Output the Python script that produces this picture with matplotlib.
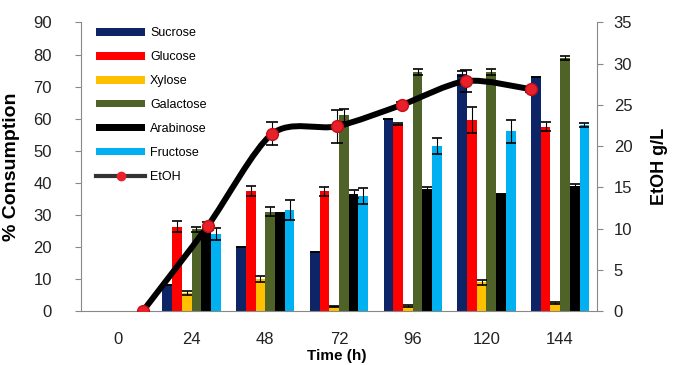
import numpy as np
import matplotlib
matplotlib.use("Agg")
import matplotlib.pyplot as plt
from matplotlib.path import Path
from matplotlib.patches import PathPatch
from matplotlib.lines import Line2D

plt.rcParams['font.family'] = ['Liberation Sans', 'DejaVu Sans']

hours = [0, 24, 48, 72, 96, 120, 144]
sugars = ["Sucrose", "Glucose", "Xylose", "Galactose", "Arabinose", "Fructose"]
colors = ["#0d2466", "#ff0000", "#ffc000", "#4f6228", "#000000", "#00b0f0"]

sucrose = [0, 8, 20, 18.5, 60, 74, 73]
glucose = [0, 26.3, 37.4, 37.4, 58.2, 59.5, 57.5]
xylose = [0, 5.5, 10, 1.5, 1.5, 9, 2.5]
galactose = [0, 25.5, 31, 61, 74.5, 74.5, 79]
arabinose = [0, 25, 30.5, 36.5, 38, 36.5, 39]
fructose = [0, 24, 31.5, 36, 51.5, 56, 58]

sucrose_err = [0, 0, 0, 0, 0, 0.8, 0]
glucose_err = [0, 1.7, 1.5, 1.4, 0.3, 4, 1.3]
xylose_err = [0, 0.6, 1.0, 0.2, 0.3, 0.8, 0.3]
galactose_err = [0, 0.8, 1.5, 2, 1, 1, 0.7]
arabinose_err = [0, 0, 0, 1.2, 0.7, 0, 0.5]
fructose_err = [0, 2, 3, 2.5, 2.6, 3.5, 0.5]

etoh = [0, 10.3, 21.5, 22.4, 25.0, 27.9, 26.9]
etoh_err = [0, 0.5, 1.4, 2.0, 0.3, 1.3, 0.3]

values = [sucrose, glucose, xylose, galactose, arabinose, fructose]
errors = [sucrose_err, glucose_err, xylose_err, galactose_err, arabinose_err, fructose_err]


def smooth_path(xs, ys, t=7.0):
    # Catmull-Rom style smoothing drawn as cubic Bezier segments
    pts = np.column_stack([xs, ys]).astype(float)
    n = len(pts)
    verts = [pts[0]]
    codes = [Path.MOVETO]
    for i in range(n - 1):
        p0 = pts[max(i - 1, 0)]
        p1 = pts[i]
        p2 = pts[i + 1]
        p3 = pts[min(i + 2, n - 1)]
        verts += [p1 + (p2 - p0) / t, p2 - (p3 - p1) / t, p2]
        codes += [Path.CURVE4] * 3
    return Path(verts, codes)


fig = plt.figure(figsize=(6.75, 3.65), dpi=100)
ax = fig.add_axes([0.12, 0.148, 0.7644, 0.7904])

x = np.arange(len(hours))
w = 0.132
for k in range(len(sugars)):
    xs = x + (k - 2.5) * w
    ax.bar(xs, values[k], w, color=colors[k], label=sugars[k], zorder=2)
    v = np.array(values[k])
    e = np.array(errors[k])
    m = v > 0
    ax.errorbar(xs[m], v[m], yerr=e[m], fmt='none', ecolor='black',
                elinewidth=0.8, capsize=3.5, capthick=1.2, zorder=3)

ax.set_xlim(-0.5, 6.5)
ax.set_ylim(0, 90)
ax.set_yticks(range(0, 91, 10))
ax.set_xticks(x)
ax.set_xticklabels([str(h) for h in hours])
ax.tick_params(axis='x', length=0, pad=15, labelsize=12, labelcolor='#222222')
ax.tick_params(axis='y', length=4, color='#888888', pad=17, labelsize=12,
               labelcolor='#222222')
for s in ['left', 'bottom']:
    ax.spines[s].set_color('#888888')
ax.spines['top'].set_visible(False)
ax.spines['right'].set_visible(False)
ax.set_ylabel("% Consumption", fontsize=14, fontweight='bold')
ax.yaxis.set_label_coords(-0.118, 0.5)
ax.set_xlabel("Time (h)", fontsize=11, fontweight='bold', va='center')
ax.xaxis.set_label_coords(0.496, -0.157)

ax2 = ax.twinx()
ax2.set_ylim(0, 35)
ax2.set_yticks(range(0, 36, 5))
ax2.tick_params(axis='y', length=4, color='#888888', pad=8, labelsize=12,
                labelcolor='#222222')
ax2.spines['right'].set_color('#888888')
for s in ['left', 'top', 'bottom']:
    ax2.spines[s].set_visible(False)
ax2.set_ylabel("EtOH g/L", fontsize=13, fontweight='bold')
ax2.yaxis.set_label_coords(1.105, 0.5)

# EtOH line sits on its own (hidden) secondary x axis
ax3 = ax2.twiny()
ax3.set_xlim(-23, 168.5)
ax3.xaxis.set_visible(False)
for s in ax3.spines.values():
    s.set_visible(False)
ax3.add_patch(PathPatch(smooth_path(hours, etoh), fill=False, lw=4.3,
                        edgecolor='black', capstyle='round', zorder=4))
ax3.errorbar(hours, etoh, yerr=etoh_err, fmt='none', ecolor='black',
             elinewidth=0.8, capsize=4, capthick=1.2, zorder=5)
ax3.plot(hours, etoh, 'o', color='#e8202a', markeredgecolor='#c0101a',
         markersize=8.5, zorder=6)

handles, labels = ax.get_legend_handles_labels()
handles.append(Line2D([], [], color='#333333', lw=3, marker='o',
                      markerfacecolor='#e8202a', markeredgecolor='#e8202a',
                      markersize=6))
labels.append("EtOH")
ax3.legend(handles, labels, loc='upper left', bbox_to_anchor=(0.02, 1.0),
           frameon=False, fontsize=9, handlelength=3.9, handleheight=0.55,
           handletextpad=0.4, labelspacing=0.95, borderaxespad=0,
           borderpad=0.4)

fig.savefig("out.png", dpi=100)
